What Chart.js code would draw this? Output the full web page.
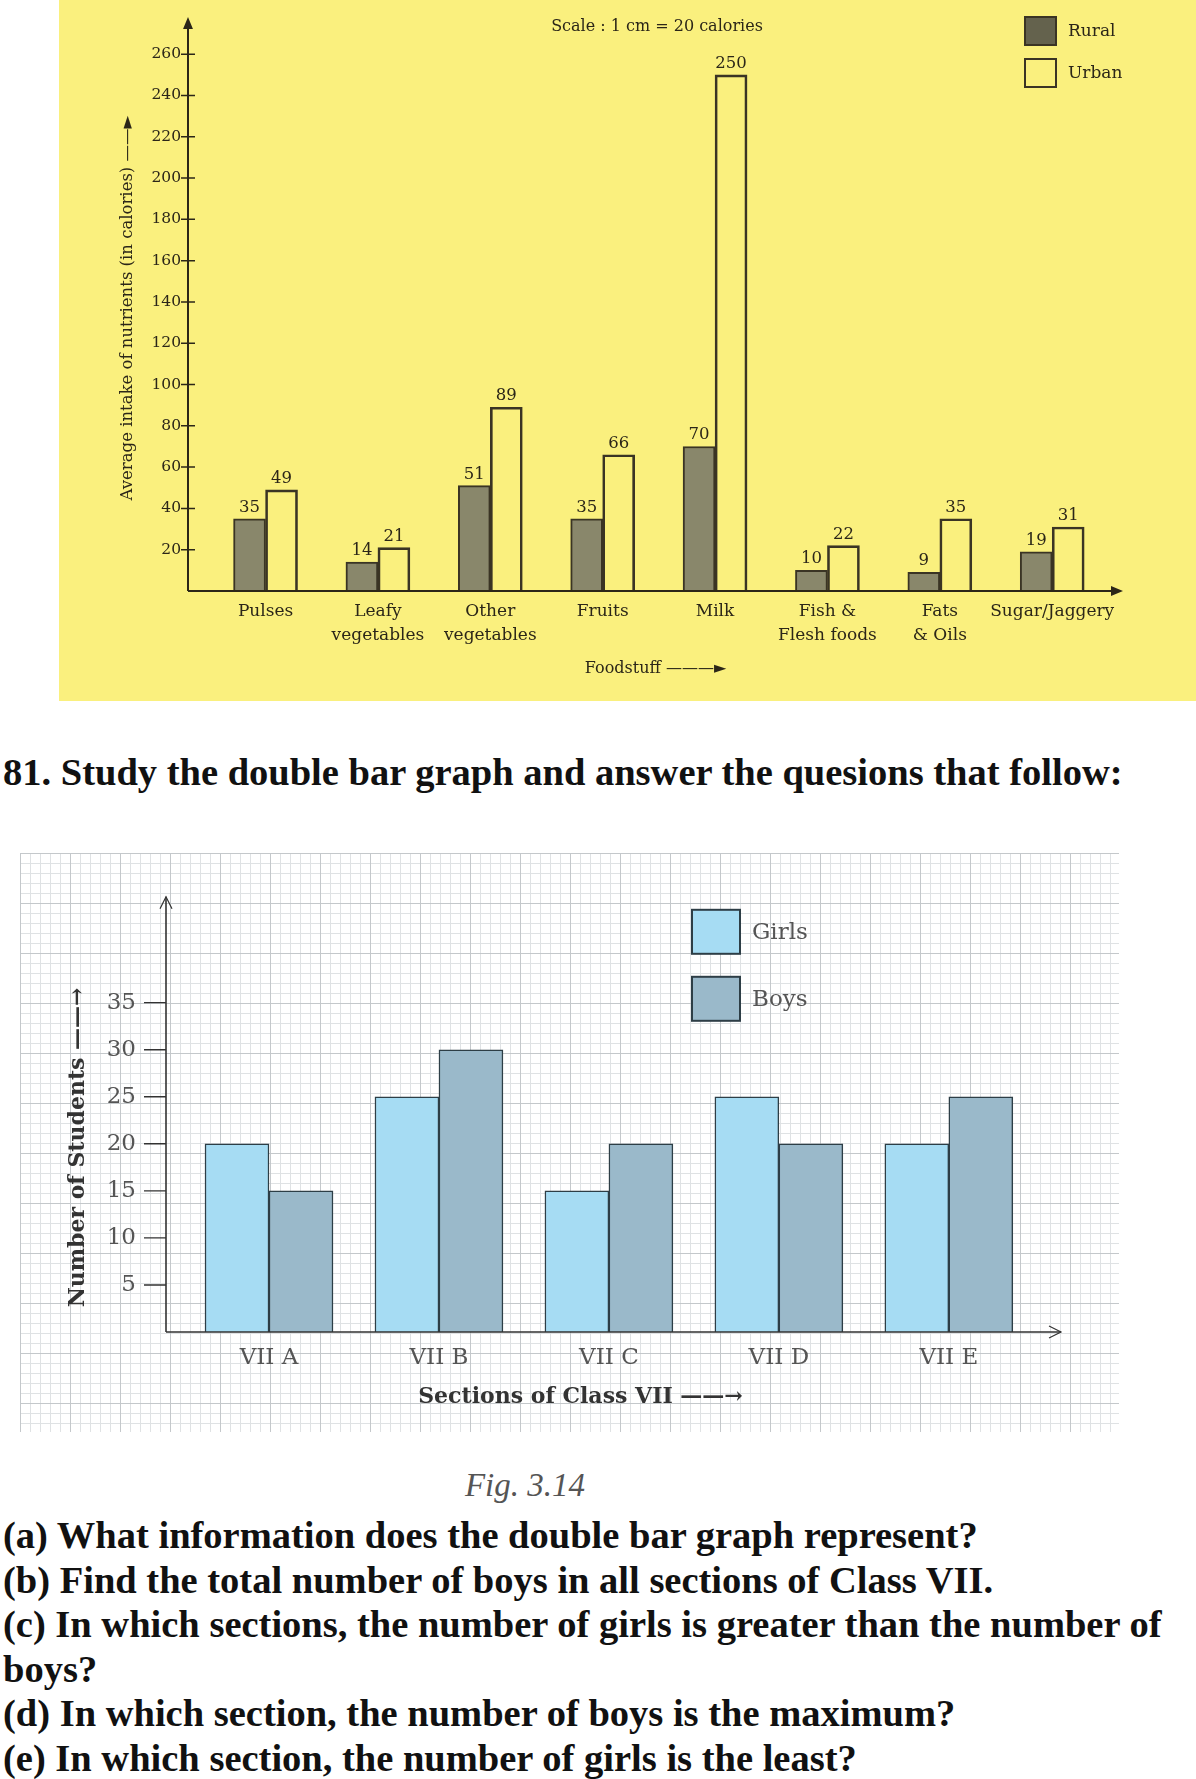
<!DOCTYPE html>
<html lang="en">
<head>
<meta charset="UTF-8">
<title>Double bar graphs</title>
<script src="https://cdn.jsdelivr.net/npm/chart.js@4.4.1/dist/chart.umd.min.js"></script>
<style>
    html, body { margin: 0; padding: 0; background: #fff; }
    body { width: 1196px; height: 1779px; position: relative; overflow: hidden; font-family: 'Liberation Serif', serif; color: #111; }
    #panel1 { position: absolute; left: 59px; top: 0; width: 1137px; height: 701px; background: #faf07e; }
    #scaleNote { position: absolute; left: 0; width: 1196px; top: 16px; text-align: center; padding-left: 118px; box-sizing: border-box;
                 font-family: 'DejaVu Serif', serif; font-size: 16px; color: #2b2618; }
    #panel2 { position: absolute; left: 20px; top: 853px; width: 1099px; height: 579px; background-color: #fff;
              background-image:
                linear-gradient(to right, #c4c8cb 1px, transparent 1px),
                linear-gradient(to bottom, #c4c8cb 1px, transparent 1px),
                linear-gradient(to right, #dfe2e4 1px, transparent 1px),
                linear-gradient(to bottom, #dfe2e4 1px, transparent 1px);
              background-size: 50px 50px, 50px 50px, 10px 10px, 10px 10px; }
    canvas { position: absolute; left: 0; top: 0; }
    .heading { position: absolute; left: 3px; top: 750px; font-weight: bold; font-size: 38.5px; line-height: 44px; white-space: nowrap; }
    .fig { position: absolute; left: 0; width: 1050px; top: 1465px; text-align: center; font-style: italic; font-size: 33px; line-height: 40px; color: #555; }
    .questions { position: absolute; left: 3px; top: 1513px; width: 1190px; font-weight: bold; font-size: 38.5px; line-height: 44.6px; }
</style>
</head>
<body>
<div id="panel1">
    <canvas id="intake" width="1137" height="701"></canvas>
</div>
<div id="scaleNote">Scale : 1 cm = 20 calories</div>

<div class="heading">81. Study the double bar graph and answer the quesions that follow:</div>

<div id="panel2">
    <canvas id="students" width="1099" height="579"></canvas>
</div>

<div class="fig">Fig. 3.14</div>
<div class="questions">
    (a) What information does the double bar graph represent?<br>
    (b) Find the total number of boys in all sections of Class VII.<br>
    (c) In which sections, the number of girls is greater than the number of boys?<br>
    (d) In which section, the number of boys is the maximum?<br>
    (e) In which section, the number of girls is the least?
</div>

<script>
    // first graph: calories by foodstuff
    const foodstuffs = [['Pulses'], ['Leafy', 'vegetables'], ['Other', 'vegetables'], ['Fruits'], ['Milk'],
                        ['Fish &', 'Flesh foods'], ['Fats', '& Oils'], ['Sugar/Jaggery']];
    const ruralIntake = [35, 14, 51, 35, 70, 10, 9, 19];
    const urbanIntake = [49, 21, 89, 66, 250, 22, 35, 31];
    const intakeTicks = [20, 40, 60, 80, 100, 120, 140, 160, 180, 200, 220, 240, 260];

    // second graph: students per section
    const sections = ['VII A', 'VII B', 'VII C', 'VII D', 'VII E'];
    const girls = [20, 25, 15, 25, 20];
    const boys = [15, 30, 20, 20, 25];
    const studentTicks = [5, 10, 15, 20, 25, 30, 35];

    function points(values) {
        return values.map((v, i) => ({x: i, y: v}));
    }

    // axes drawn the textbook way, with arrow heads
    const textbookAxes = {
        id: 'textbookAxes',
        afterDatasetsDraw(chart, args, o) {
            const {ctx, chartArea: {left, right, top, bottom}, scales: {y}} = chart;
            const h = o.head;
            ctx.save();
            ctx.strokeStyle = o.color;
            ctx.fillStyle = o.color;
            ctx.lineWidth = o.width;
            ctx.beginPath();
            ctx.moveTo(left, bottom);
            ctx.lineTo(left, o.filled ? top + h : top);
            ctx.moveTo(left, bottom);
            ctx.lineTo(o.filled ? right - h : right, bottom);
            ctx.stroke();
            if (o.filled) {
                ctx.beginPath();
                ctx.moveTo(left, top); ctx.lineTo(left - h * 0.45, top + h + 1); ctx.lineTo(left + h * 0.45, top + h + 1); ctx.closePath();
                ctx.moveTo(right, bottom); ctx.lineTo(right - h - 1, bottom - h * 0.45); ctx.lineTo(right - h - 1, bottom + h * 0.45); ctx.closePath();
                ctx.fill();
            } else {
                ctx.lineWidth = 1.2;
                ctx.beginPath();
                ctx.moveTo(left - h * 0.5, top + h); ctx.lineTo(left, top); ctx.lineTo(left + h * 0.5, top + h);
                ctx.moveTo(right - h, bottom - h * 0.5); ctx.lineTo(right, bottom); ctx.lineTo(right - h, bottom + h * 0.5);
                ctx.stroke();
            }
            ctx.lineWidth = o.tickWidth;
            ctx.beginPath();
            y.ticks.forEach(t => {
                const py = y.getPixelForValue(t.value);
                ctx.moveTo(left - o.tickOut, py);
                ctx.lineTo(left + o.tickIn, py);
            });
            ctx.stroke();
            ctx.restore();
        }
    };

    const barValues = {
        id: 'barValues',
        afterDatasetsDraw(chart, args, o) {
            if (!o.show) return;
            const {ctx} = chart;
            ctx.save();
            ctx.font = o.labelFont;
            ctx.fillStyle = o.color;
            ctx.textAlign = 'center';
            ctx.textBaseline = 'bottom';
            chart.data.datasets.forEach((ds, i) => {
                chart.getDatasetMeta(i).data.forEach((bar, j) => {
                    ctx.fillText(ds.data[j].y, bar.x, bar.y - 3);
                });
            });
            ctx.restore();
        }
    };

    const boxLegend = {
        id: 'boxLegend',
        afterDraw(chart, args, o) {
            const {ctx, chartArea} = chart;
            const x0 = o.fromRight ? chartArea.right + o.x : chartArea.left + o.x;
            ctx.save();
            ctx.font = o.labelFont;
            ctx.textBaseline = 'middle';
            chart.data.datasets.forEach((ds, i) => {
                const yy = chartArea.top + o.y + i * o.step;
                ctx.fillStyle = ds.legendColor || ds.backgroundColor;
                ctx.fillRect(x0, yy, o.boxW, o.boxH);
                ctx.lineWidth = o.lineWidth;
                ctx.strokeStyle = ds.borderColor;
                ctx.strokeRect(x0, yy, o.boxW, o.boxH);
                ctx.fillStyle = o.color;
                ctx.fillText(ds.label, x0 + o.boxW + o.gap, yy + o.boxH / 2 + 1);
            });
            ctx.restore();
        }
    };

    const ink1 = '#2b2618';

    new Chart(document.getElementById('intake'), {
        type: 'bar',
        data: {
            datasets: [
                {label: 'Rural', data: points(ruralIntake), backgroundColor: '#89876b', legendColor: '#64624d',
                 borderColor: '#3a3424', borderWidth: 2, barThickness: 32},
                {label: 'Urban', data: points(urbanIntake), backgroundColor: 'rgba(0,0,0,0)',
                 borderColor: '#3a3424', borderWidth: 2, barThickness: 32}
            ]
        },
        options: {
            responsive: false,
            animation: false,
            layout: {padding: {left: 0, right: 73, top: 17, bottom: 0}},
            plugins: {
                legend: {display: false},
                tooltip: {enabled: false},
                textbookAxes: {color: ink1, width: 2, head: 11, filled: true, tickOut: 7, tickIn: 7, tickWidth: 1.5},
                barValues: {show: true, labelFont: '16.5px "DejaVu Serif"', color: ink1},
                boxLegend: {fromRight: true, x: -98, y: 0, step: 42, boxW: 31, boxH: 28, gap: 12, lineWidth: 2,
                            labelFont: '17px "DejaVu Serif"', color: ink1}
            },
            scales: {
                x: {
                    type: 'linear', min: -0.69, max: 7.63, offset: false, bounds: 'data',
                    grid: {display: false, drawTicks: false, offset: false}, border: {display: false},
                    afterBuildTicks: s => { s.ticks = foodstuffs.map((f, i) => ({value: i})); },
                    afterFit: s => { s.height = 110; },
                    ticks: {
                        callback: v => foodstuffs[v],
                        autoSkip: false, maxRotation: 0, padding: 9, color: ink1,
                        font: {family: 'DejaVu Serif', size: 17, lineHeight: 1.4}
                    },
                    title: {display: true, text: 'Foodstuff ———►', color: ink1,
                            font: {family: 'DejaVu Serif', size: 16}, padding: {top: 0, bottom: 23}}
                },
                y: {
                    min: 0, max: 278,
                    grid: {display: false, drawTicks: false}, border: {display: false},
                    afterBuildTicks: s => { s.ticks = intakeTicks.map(v => ({value: v})); },
                    afterFit: s => { s.width = 129; },
                    ticks: {padding: 7, color: ink1, font: {family: 'DejaVu Serif', size: 15.5}},
                    title: {display: true, text: 'Average intake of nutrients (in calories) ——►\u2002', color: ink1,
                            font: {family: 'DejaVu Serif', size: 16.5}, padding: {top: 59, bottom: 0}}
                }
            }
        },
        plugins: [textbookAxes, barValues, boxLegend]
    });

    const ink2 = '#333';
    const grey2 = '#555';

    new Chart(document.getElementById('students'), {
        type: 'bar',
        data: {
            datasets: [
                {label: 'Girls', data: points(girls), backgroundColor: '#a6dcf3', borderColor: '#2d3e46', borderWidth: 1.5, barThickness: 64},
                {label: 'Boys', data: points(boys), backgroundColor: '#9ab9ca', borderColor: '#2d3e46', borderWidth: 1.5, barThickness: 64}
            ]
        },
        options: {
            responsive: false,
            animation: false,
            layout: {padding: {left: 0, right: 58, top: 41, bottom: 0}},
            plugins: {
                legend: {display: false},
                tooltip: {enabled: false},
                textbookAxes: {color: ink2, width: 1.6, head: 12, filled: false, tickOut: 22, tickIn: 0, tickWidth: 1.4},
                barValues: {show: false},
                boxLegend: {fromRight: false, x: 526, y: 13, step: 67, boxW: 48, boxH: 44, gap: 12, lineWidth: 2,
                            labelFont: '23px "DejaVu Serif"', color: grey2}
            },
            scales: {
                x: {
                    type: 'linear', min: -0.606, max: 4.66, offset: false, bounds: 'data',
                    grid: {display: false, drawTicks: false, offset: false}, border: {display: false},
                    afterBuildTicks: s => { s.ticks = sections.map((c, i) => ({value: i})); },
                    afterFit: s => { s.height = 100; },
                    ticks: {
                        callback: v => sections[v],
                        autoSkip: false, maxRotation: 0, padding: 12, color: grey2,
                        font: {family: 'DejaVu Serif', size: 23}
                    },
                    // trailing em spaces keep the caption left of centre, as in the book
                    title: {display: true, text: 'Sections of Class VII ——→\u2003\u2003\u2003', color: ink2,
                            font: {family: 'DejaVu Serif', size: 22, weight: 'bold'}, padding: {top: 0, bottom: 22}}
                },
                y: {
                    min: 0, max: 46.25,
                    grid: {display: false, drawTicks: false}, border: {display: false},
                    afterBuildTicks: s => { s.ticks = studentTicks.map(v => ({value: v})); },
                    afterFit: s => { s.width = 146; },
                    ticks: {padding: 30, color: grey2, font: {family: 'DejaVu Serif', size: 23}},
                    title: {display: true, text: 'Number of Students ——→\u2003\u2003\u2003', color: ink2,
                            font: {family: 'DejaVu Serif', size: 22, weight: 'bold'}, padding: {top: 45, bottom: 0}}
                }
            }
        },
        plugins: [textbookAxes, barValues, boxLegend]
    });
</script>
</body>
</html>
